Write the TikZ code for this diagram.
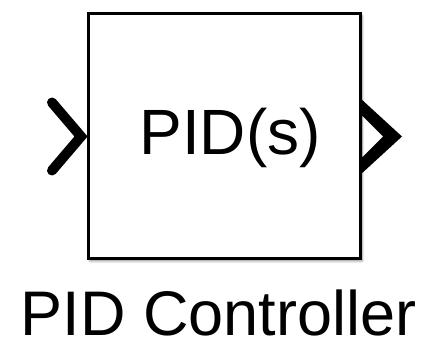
\documentclass[tikz,border=0pt]{standalone}
\usepackage{fontspec}
\setmainfont{Liberation Sans}
\usepackage{tikz}
\usetikzlibrary{calc, positioning, shadows.blur}
\definecolor{blockedge}{RGB}{0,0,0}
\tikzset{
    block/.style      = {draw = blockedge, line width = 3pt, fill = white, minimum width = 272pt, minimum height = 245pt, inner sep = 0pt, outer sep = 0pt, blur shadow = {shadow xshift = 2pt, shadow yshift = -2pt, shadow blur radius = 2.5pt, shadow blur steps = 6, shadow opacity = 45}},
    inport/.style     = {draw = blockedge, line width = 10pt, line cap = round, line join = miter},
    outport/.style    = {fill = blockedge, even odd rule},
    block text/.style = {font = \fontsize{64}{70}\selectfont, inner sep = 0pt},
    block name/.style = {font = \fontsize{63}{70}\selectfont, inner sep = 0pt}
}

\begin{document}
\begin{tikzpicture}[x=1pt, y=1pt]
		\useasboundingbox (0,0) rectangle (439,345);

		\node[block] (pid) at (224,208.5) {};
		\node[block text, anchor=base] (gain) at ($(pid.center)+(6,-18.5)$) {PID(s)};

		\draw[inport] ($(pid.west)+(-36,34)$) -- ($(pid.west)+(-7,0)$) -- ($(pid.west)+(-36,-34)$);
		\path[outport] (pid.east) -- ++(0,38.5) -- ($(pid.east)+(42,0)$) -- ($(pid.east)+(0,-38.5)$) -- cycle
			($(pid.east)+(2,21)$) -- ($(pid.east)+(23,0)$) -- ($(pid.east)+(2,-21)$) -- cycle;

		\node[block name, anchor=base] (name) at ($(pid.south)+(-5.5,-77)$) {PID Controller};
	\end{tikzpicture}
\end{document}
